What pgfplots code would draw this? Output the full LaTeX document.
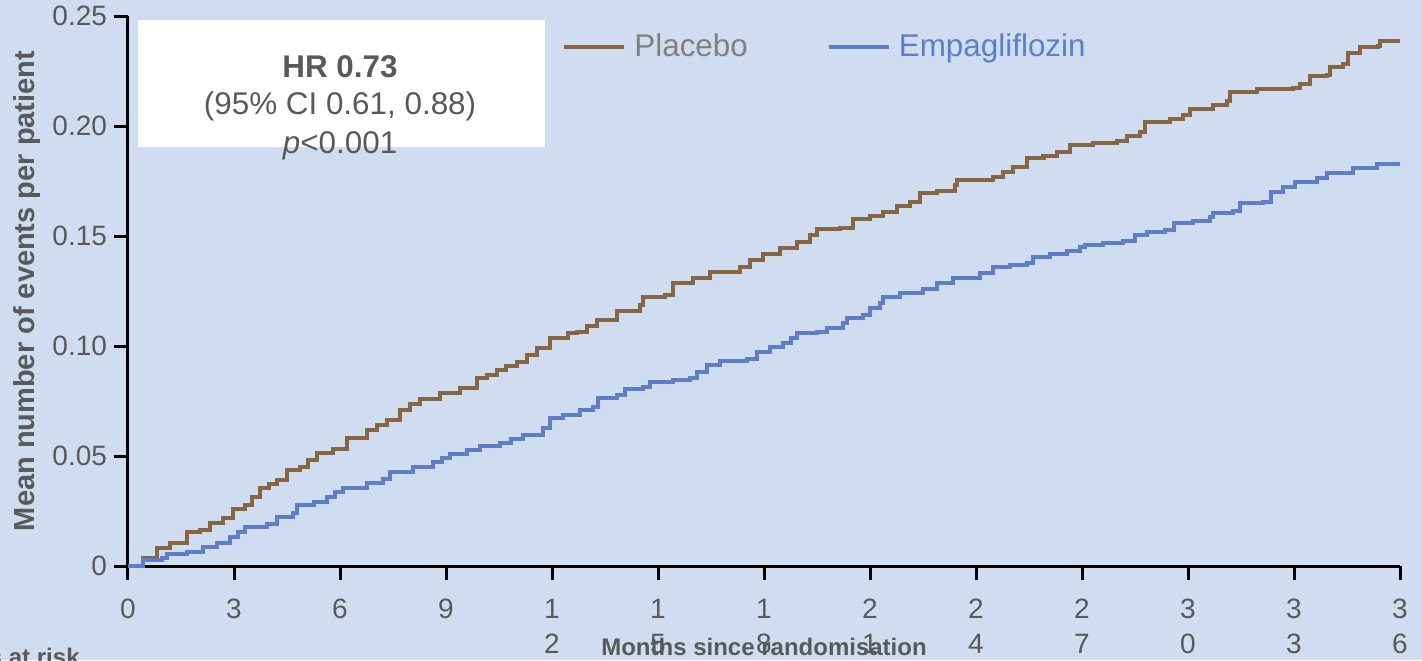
\documentclass[border=0pt]{standalone}
\usepackage{pgfplots}
\pgfplotsset{compat=1.18}
\usepackage{fontspec}
\setmainfont{Liberation Sans}

\definecolor{bgblue}{RGB}{208,220,239}
\definecolor{placebo}{RGB}{134,101,66}
\definecolor{empa}{RGB}{94,127,199}
\definecolor{txtgray}{RGB}{89,89,89}
\definecolor{leggray}{RGB}{128,128,128}

\begin{document}
\begin{tikzpicture}
% page background, also fixes the picture's extent
\fill[bgblue, use as bounding box] (-64pt,-47pt) rectangle (647pt,283pt);
\begin{axis}[
  at={(0,0)}, anchor=south west,
  scale only axis, width=636pt, height=275pt,
  xmin=0, xmax=36, ymin=0, ymax=0.25,
  clip=false,
  axis x line*=bottom, axis y line*=left,
  axis line style={line width=1.5pt, black},
  tick align=outside, major tick length=7pt,
  tick style={line width=1.5pt, black},
  xtick={0,3,...,36},
  xticklabels={0,3,6,9,{1\\2},{1\\5},{1\\8},{2\\1},{2\\4},{2\\7},{3\\0},{3\\3},{3\\6}},
  xticklabel style={align=center, text=txtgray, yshift=-6pt,
    font=\fontsize{14}{17.5}\selectfont},
  ytick={0,0.05,0.10,0.15,0.20,0.25},
  yticklabels={0,0.05,0.10,0.15,0.20,0.25},
  yticklabel style={text=txtgray, font=\fontsize{14}{17}\selectfont},
  xlabel={Months since randomisation},
  xlabel style={at={(axis description cs:0.5,-0.1618)}, anchor=base,
    font=\bfseries\fontsize{12}{14}\selectfont, text=txtgray},
  ylabel={Mean number of events per patient},
  ylabel style={at={(axis description cs:-0.0794,0.5)}, anchor=center, rotate=0,
    font=\bfseries\fontsize{14.5}{17}\selectfont, text=txtgray},
  legend style={draw=none, fill=none, inner sep=0pt,
    at={(axis description cs:0.3412,0.9436)}, anchor=west,
    font=\fontsize{15.7}{18}\selectfont,
    /tikz/every even column/.append style={column sep=37.5pt}},
  legend columns=2, legend cell align=left,
  legend image code/.code={\draw[#1] (0pt,0pt) -- (30pt,0pt); \path (32pt,0pt);},
]
% hazard-ratio annotation box
\fill[white] (axis description cs:0.00786,0.9927) rectangle (axis description cs:0.3278,0.7618);

\addplot[const plot, placebo, line width=2pt] coordinates {
(0,0) (0.42,0.0036) (0.81,0.008) (1.19,0.0103) (1.66,0.0156) (2.04,0.0164)
(2.32,0.0194) (2.70,0.0217) (2.98,0.026) (3.31,0.0277) (3.52,0.0315) (3.74,0.0353)
(3.98,0.0372) (4.21,0.039) (4.49,0.0436) (4.87,0.0451) (5.1,0.048) (5.34,0.0512)
(5.81,0.053) (6.19,0.058) (6.75,0.0618) (7.05,0.064) (7.32,0.0664) (7.70,0.0709)
(7.98,0.0735) (8.26,0.0758) (8.83,0.0785) (9.40,0.0808) (9.87,0.0853) (10.15,0.087)
(10.43,0.0891) (10.7,0.091) (11.0,0.0929) (11.3,0.096) (11.57,0.099) (11.94,0.1035)
(12.46,0.1058) (12.70,0.1065) (12.98,0.109) (13.26,0.1118) (13.83,0.1159) (14.49,0.1186)
(14.58,0.1224) (15.20,0.1232) (15.43,0.1285) (16.0,0.1308) (16.47,0.1338) (17.32,0.136)
(17.60,0.1391) (17.98,0.1418) (18.45,0.1447) (18.92,0.1474) (19.30,0.1505) (19.49,0.1532)
(20.15,0.1535) (20.53,0.1576) (21.0,0.1591) (21.38,0.161) (21.76,0.1636) (22.13,0.1656)
(22.42,0.1697) (22.89,0.1705) (23.41,0.1732) (23.45,0.1755) (24.49,0.177) (24.77,0.1792)
(25.06,0.1815) (25.43,0.1853) (25.91,0.1865) (26.28,0.1883) (26.66,0.1914) (27.32,0.1924)
(27.98,0.1933) (28.27,0.1955) (28.64,0.1974) (28.78,0.202) (29.49,0.2032) (29.87,0.205)
(30.06,0.2076) (30.72,0.2095) (31.1,0.2115) (31.19,0.2156) (31.94,0.2168) (32.98,0.2171)
(33.17,0.2191) (33.45,0.2227) (33.92,0.2232) (34.02,0.227) (34.40,0.228) (34.54,0.233)
(34.87,0.236) (35.39,0.2364) (35.43,0.2386) (36,0.2386)
};
\addlegendentry{\textcolor{leggray}{Placebo}}

\addplot[const plot, empa, line width=2pt] coordinates {
(0,0) (0.43,0.0027) (0.95,0.0035) (1.1,0.0055) (1.66,0.0065) (2.13,0.0088)
(2.51,0.0106) (2.89,0.0133) (3.1,0.0155) (3.31,0.0179) (3.92,0.0191) (4.21,0.0224)
(4.68,0.024) (4.77,0.0277) (5.25,0.0292) (5.62,0.0315) (5.85,0.0335) (6.09,0.0353)
(6.75,0.0376) (7.23,0.0394) (7.42,0.0429) (8.07,0.0451) (8.64,0.0474) (8.9,0.049)
(9.11,0.0508) (9.59,0.0527) (9.96,0.0545) (10.53,0.0558) (10.85,0.0577) (11.19,0.0595)
(11.75,0.0626) (11.94,0.0671) (12.32,0.0686) (12.79,0.0709) (13.17,0.0724) (13.31,0.0762)
(13.83,0.0777) (14.07,0.0803) (14.58,0.0815) (14.77,0.0838) (15.43,0.0845) (15.91,0.0853)
(16.10,0.0883) (16.38,0.0914) (16.75,0.0932) (17.51,0.094) (17.79,0.0974) (18.17,0.0997)
(18.55,0.1012) (18.75,0.1035) (18.92,0.1058) (19.49,0.1065) (19.77,0.108) (20.24,0.1103)
(20.34,0.1126) (20.81,0.1141) (21.0,0.1171) (21.28,0.1194) (21.38,0.1224) (21.85,0.1242)
(22.51,0.1258) (22.89,0.1285) (23.36,0.1308) (24.11,0.133) (24.49,0.136) (24.96,0.1368)
(25.43,0.1379) (25.62,0.1406) (26.09,0.1417) (26.57,0.1433) (26.94,0.1449) (27.08,0.1459)
(27.6,0.1467) (28.17,0.1479) (28.5,0.1505) (28.83,0.1517) (29.35,0.1527) (29.59,0.1558)
(30.15,0.157) (30.62,0.1588) (30.72,0.1606) (31.28,0.1615) (31.47,0.1651) (32.13,0.1656)
(32.36,0.1701) (32.70,0.1724) (33.03,0.1747) (33.64,0.1762) (33.92,0.1788) (34.68,0.1808)
(35.34,0.1826) (36,0.1826)
};
\addlegendentry{\textcolor{empa}{Empagliflozin}}

% annotation text
\node[anchor=base, text=txtgray, font=\bfseries\fontsize{15.7}{19}\selectfont]
  at (axis description cs:0.1667,0.8873) {HR 0.73};
\node[anchor=base, text=txtgray, font=\fontsize{15.7}{19}\selectfont]
  at (axis description cs:0.1667,0.8218) {(95\% CI 0.61, 0.88)};
\node[anchor=base, text=txtgray, font=\fontsize{15.7}{19}\selectfont]
  at (axis description cs:0.1667,0.7509) {\textit{p}<0.001};

% risk table heading, mostly below the page edge
\node[anchor=base east, inner sep=0pt, text=txtgray, font=\bfseries\fontsize{12}{14}\selectfont]
  at (axis description cs:-0.0377,-0.1818) {Patients at risk};
\end{axis}
\end{tikzpicture}
\end{document}
